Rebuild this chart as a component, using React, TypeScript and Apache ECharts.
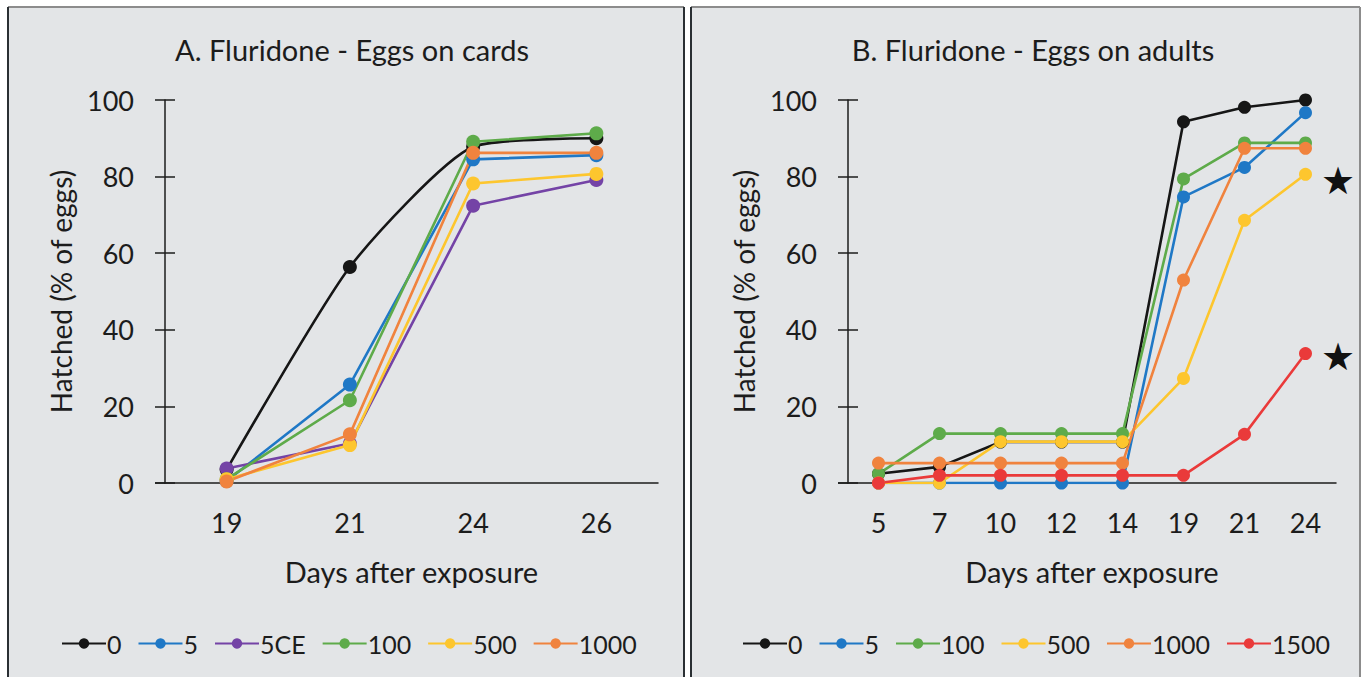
import React, { useEffect, useRef } from "react";
import * as echarts from "echarts";

const catsA = ["19", "21", "24", "26"];
const a0 = [3.5, 56.4, 87.8, 90];
const a5 = [0.5, 25.7, 84.5, 85.6];
const a5CE = [3.8, 10.3, 72.4, 79.1];
const a100 = [1, 21.6, 89.1, 91.3];
const a500 = [1, 9.9, 78.2, 80.7];
const a1000 = [0.4, 12.7, 86.2, 86.2];

const catsB = ["5", "7", "10", "12", "14", "19", "21", "24"];
const b0 = [2.4, 4.2, 10.7, 10.7, 10.7, 94.3, 98.1, 100];
const b5 = [0, 0, 0, 0, 0, 74.7, 82.4, 96.7];
const b100 = [2.4, 12.9, 12.9, 12.9, 12.9, 79.4, 88.8, 88.8];
const b500 = [0, 0, 10.8, 10.8, 10.8, 27.3, 68.6, 80.6];
const b1000 = [5.2, 5.2, 5.2, 5.2, 5.2, 53, 87.4, 87.4];
const b1500 = [0, 2, 2, 2, 2, 2, 12.7, 33.8];

const yTicks = [0, 20, 40, 60, 80, 100];

const namesA = ["0", "5", "5CE", "100", "500", "1000"];
const namesB = ["0", "5", "100", "500", "1000", "1500"];
const colors: Record<string, string> = {
  "0": "#161616",
  "5": "#1f78c6",
  "5CE": "#7443a6",
  "100": "#5eab4a",
  "500": "#fdc62e",
  "1000": "#f0833e",
  "1500": "#ea3a3a",
};

const FONT = "Lato, 'Open Sans', sans-serif";
const TXT = "#1c1c1c";

export default function App() {
  const ref = useRef<HTMLDivElement>(null);
  useEffect(() => {
    if (!ref.current) return;
    const chart = echarts.init(ref.current, null, { renderer: "svg" });

    const gA = { left: 165, top: 100, width: 493, height: 383 };
    const gB = { left: 848, top: 100, width: 488, height: 383 };

    const mkX = (cats: string[], gi: number) => ({
      type: "category",
      gridIndex: gi,
      data: cats,
      boundaryGap: true,
      axisLine: { lineStyle: { color: TXT, width: 1.5 } },
      axisTick: { show: false },
      axisLabel: { color: TXT, fontSize: 27, fontFamily: FONT, margin: 26 },
      name: "Days after exposure",
      nameLocation: "middle",
      nameGap: 74,
      nameTextStyle: { color: TXT, fontSize: 29, fontFamily: FONT },
    });
    const mkY = (gi: number, main: boolean) => ({
      type: "value",
      gridIndex: gi,
      min: yTicks[0],
      max: yTicks[yTicks.length - 1],
      interval: 20,
      position: "left",
      offset: 0,
      splitLine: { show: false },
      axisLine: { show: main, lineStyle: { color: TXT, width: 1.5 } },
      axisTick: { show: true, inside: !main, length: 10, lineStyle: { color: TXT, width: 1.5 } },
      axisLabel: main
        ? { color: TXT, fontSize: 27, fontFamily: FONT, margin: 31 }
        : { show: false },
      name: main ? "Hatched (% of eggs)" : "",
      nameLocation: "middle",
      nameGap: 90,
      nameTextStyle: { color: TXT, fontSize: 28, fontFamily: FONT },
    });

    const mkSeries = (name: string, data: number[], xi: number, yi: number, size: number, smooth: number | boolean) => ({
      name,
      type: "line",
      xAxisIndex: xi,
      yAxisIndex: yi,
      data,
      smooth,
      symbol: "circle",
      symbolSize: size,
      lineStyle: { color: colors[name], width: 2.6 },
      itemStyle: { color: colors[name] },
      z: 3,
    });

    const dataA = [a0, a5, a5CE, a100, a500, a1000];
    const dataB = [b0, b5, b100, b500, b1000, b1500];

    const series: any[] = [];
    namesA.forEach((n, i) => series.push(mkSeries(n, dataA[i], 0, 0, 14, n === "0" ? 0.2 : false)));
    namesB.forEach((n, i) => series.push(mkSeries(n, dataB[i], 1, 2, 13, false)));

    const legendCommon = {
      top: 626,
      itemWidth: 44,
      itemHeight: 13,
      itemGap: 16,
      textStyle: { color: TXT, fontSize: 25, fontFamily: FONT, padding: [0, 0, 0, -4] },
    };

    const panelStyle = { fill: "#e3e5e7" };
    const borderDark = { stroke: "#2a2f33", lineWidth: 2 };
    const borderGrey = { stroke: "#8c8c8c", lineWidth: 2 };

    chart.setOption({
      animation: false,
      backgroundColor: "#ffffff",
      textStyle: { fontFamily: FONT },
      title: [
        {
          text: "A. Fluridone - Eggs on cards",
          left: 347,
          top: 30,
          textAlign: "center",
          textStyle: { color: TXT, fontSize: 29, fontWeight: "normal", fontFamily: FONT },
        },
        {
          text: "B. Fluridone - Eggs on adults",
          left: 1028,
          top: 30,
          textAlign: "center",
          textStyle: { color: TXT, fontSize: 29, fontWeight: "normal", fontFamily: FONT },
        },
      ],
      legend: [
        { ...legendCommon, left: 56, data: namesA },
        { ...legendCommon, left: 737, data: namesB },
      ],
      grid: [gA, gB].map((g) => ({ ...g, containLabel: false })),
      xAxis: [mkX(catsA, 0), mkX(catsB, 1)],
      yAxis: [mkY(0, true), mkY(0, false), mkY(1, true), mkY(1, false)],
      series,
      graphic: [
        { type: "rect", z: -10, shape: { x: 8, y: 7, width: 676, height: 680 }, style: panelStyle },
        { type: "rect", z: -10, shape: { x: 691, y: 7, width: 669, height: 680 }, style: panelStyle },
        { type: "line", z: -9, shape: { x1: 8, y1: 7, x2: 684, y2: 7 }, style: borderGrey },
        { type: "line", z: -9, shape: { x1: 691, y1: 7, x2: 1360, y2: 7 }, style: borderGrey },
        { type: "line", z: -9, shape: { x1: 8, y1: 7, x2: 8, y2: 677 }, style: borderDark },
        { type: "line", z: -9, shape: { x1: 684, y1: 7, x2: 684, y2: 677 }, style: borderDark },
        { type: "line", z: -9, shape: { x1: 691, y1: 7, x2: 691, y2: 677 }, style: borderDark },
        { type: "line", z: -9, shape: { x1: 1360, y1: 7, x2: 1360, y2: 677 }, style: borderGrey },
        {
          type: "line",
          shape: { x1: gA.left - 10, y1: gA.top + gA.height, x2: gA.left, y2: gA.top + gA.height },
          style: { stroke: TXT, lineWidth: 1.5 },
        },
        {
          type: "line",
          shape: { x1: gB.left - 10, y1: gB.top + gB.height, x2: gB.left, y2: gB.top + gB.height },
          style: { stroke: TXT, lineWidth: 1.5 },
        },
        {
          type: "text",
          x: 1338,
          y: 181,
          style: { text: "★", fontSize: 38, fill: "#111", align: "center", verticalAlign: "middle", fontFamily: "DejaVu Sans" },
        },
        {
          type: "text",
          x: 1338,
          y: 357,
          style: { text: "★", fontSize: 38, fill: "#111", align: "center", verticalAlign: "middle", fontFamily: "DejaVu Sans" },
        },
      ],
    });
    return () => chart.dispose();
  }, []);
  return (
    <div
      ref={ref}
      style={{ position: "fixed", left: 0, top: 0, width: 1362, height: 677 }}
    />
  );
}
